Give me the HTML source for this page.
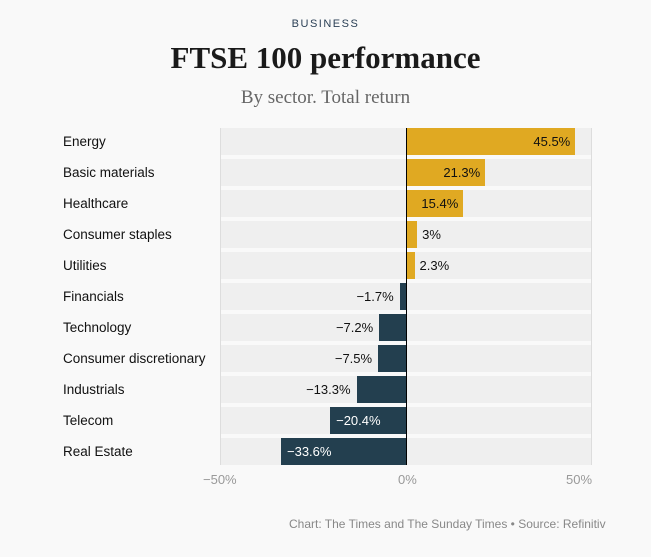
<!DOCTYPE html><html><head><style>
body{margin:0;width:651px;height:557px;background:#f9f9f9;font-family:"Liberation Sans",sans-serif;position:relative;overflow:hidden}
.t{position:absolute;left:0;width:651px;text-align:center}
.lab{position:absolute;left:63px;font-size:13.5px;color:#111}
.band{position:absolute;left:221px;width:370px;height:27px;background:#efefef}
.bar{position:absolute;height:27px;font-size:13px;line-height:27px}
.ax{position:absolute;top:472px;font-size:13px;color:#999}
</style></head><body>
<div class="t" style="top:18px;font-size:11px;letter-spacing:1.5px;color:#2a3f55">BUSINESS</div>
<div class="t" style="top:40px;font-family:'Liberation Serif',serif;font-weight:bold;font-size:31px;color:#1a1a1a">FTSE 100 performance</div>
<div class="t" style="top:87px;font-family:'Liberation Serif',serif;font-size:19px;color:#666">By sector. Total return</div>
<div style="position:absolute;left:220px;top:128px;width:1px;height:337px;background:#ddd"></div>
<div style="position:absolute;left:591px;top:128px;width:1px;height:337px;background:#ddd"></div>
<div id="c"></div>
<div style="position:absolute;left:406px;top:128px;width:1px;height:337px;background:#000"></div>
<div class="ax" style="left:203px">−50%</div>
<div class="ax" style="left:398px">0%</div>
<div class="ax" style="left:566px">50%</div>
<div style="position:absolute;left:289px;top:517px;font-size:12px;color:#888">Chart: The Times and The Sunday Times • Source: Refinitiv</div>
<script>
var d=[["Energy",45.5],["Basic materials",21.3],["Healthcare",15.4],["Consumer staples",3],["Utilities",2.3],["Financials",-1.7],["Technology",-7.2],["Consumer discretionary",-7.5],["Industrials",-13.3],["Telecom",-20.4],["Real Estate",-33.6]];
var h="";d.forEach(function(r,i){var y=128+31*i,v=r[1],w=Math.abs(v)*3.72,t=(v<0?"−"+(-v):v)+"%";
h+='<div class="band" style="top:'+y+'px"></div><div class="lab" style="top:'+(y+6)+'px">'+r[0]+'</div>';
if(v>0){h+='<div class="bar" style="top:'+y+'px;left:406px;width:'+w+'px;background:#e0a922"></div>';
if(w>40)h+='<div class="bar" style="top:'+y+'px;left:406px;width:'+(w-5)+'px;text-align:right;color:#111">'+t+'</div>';else h+='<div class="bar" style="top:'+y+'px;left:'+(406+w+5)+'px;color:#111">'+t+'</div>';}
else{h+='<div class="bar" style="top:'+y+'px;left:'+(406-w)+'px;width:'+w+'px;background:#233f4f"></div>';
if(w>60)h+='<div class="bar" style="top:'+y+'px;left:'+(406-w+6)+'px;color:#fff">'+t+'</div>';else h+='<div class="bar" style="top:'+y+'px;left:'+(406-w-60)+'px;width:54px;text-align:right;color:#111">'+t+'</div>';}
});document.getElementById("c").innerHTML=h;
</script>
</body></html>
